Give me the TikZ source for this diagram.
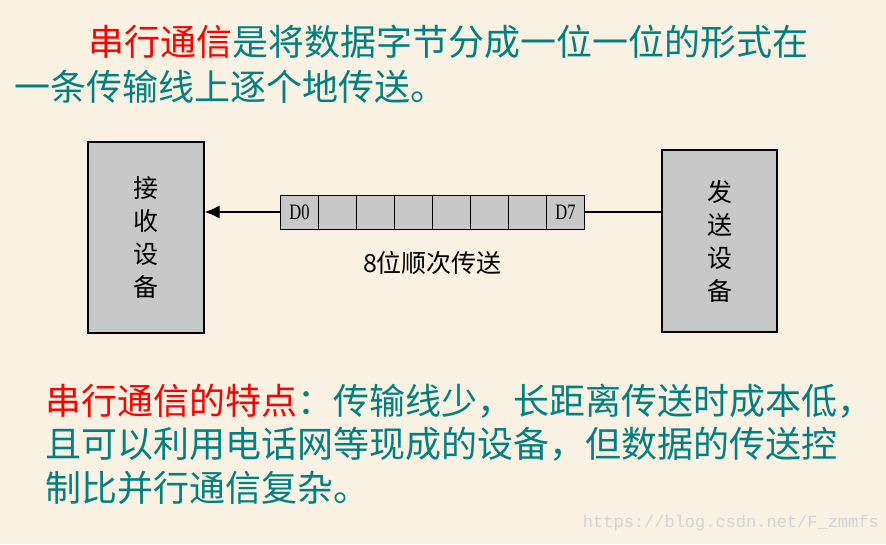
\documentclass[tikz,border=0pt]{standalone}
\usepackage{fontspec}
\usepackage{xcolor}
\setmainfont{Liberation Serif}
\newfontfamily\cjk{Noto Sans CJK SC}
\newfontfamily\cellfont[FakeStretch=0.75]{Liberation Serif}
\newfontfamily\wmfont{Liberation Mono}
\usetikzlibrary{matrix,
	positioning,
	arrows.meta}
\definecolor{bgbeige}{RGB}{249,242,226}
\definecolor{textteal}{RGB}{0,128,128}
\definecolor{boxgray}{RGB}{200,200,200}
\tikzstyle{device}=[draw, fill=boxgray, line width=1.2pt, inner sep=0,
	align=center, font=\cjk\fontsize{25}{33}\selectfont]
\tikzstyle{bit register}=[matrix of nodes, nodes in empty cells, ampersand
	replacement=\&, inner sep=0, column sep=-1pt, nodes={rectangle, draw,
	fill=boxgray, line width=1pt, minimum height=34pt, minimum width=38pt,
	inner sep=0, anchor=center, font=\cellfont\fontsize{22}{22}\selectfont}]
\tikzstyle{wire}=[line width=1.2pt]
\tikzstyle{para}=[anchor=west, inner sep=0, text=textteal, font=\cjk\fontsize{36}{36}\selectfont]

\begin{document}
\begin{tikzpicture}[x=1pt, y=-1pt]
            \fill[bgbeige] (0,0) rectangle (886,544);
            \useasboundingbox (0,0) rectangle (886,544);
            % definition text
            \node[para] (def1) at (88,42) {\textcolor{red}{串行通信}是将数据字节分成一位一位的形式在};
            \node[para] (def2) at (14,87) {一条传输线上逐个地传送。};
            % devices and register
            \node[device, minimum width=116pt, minimum height=191pt] (recv) at (146,237.5)
                {接\\收\\设\\备};
            \node[device, minimum width=115pt, minimum height=182pt] (send) at (719.5,241)
                {发\\送\\设\\备};
            \matrix (reg) at (432.5,212) [bit register] {
                D0 \& \& \& \& \& \& \& D7 \\
            };
            \draw[wire, -{Latex[length=15pt, width=13pt]}] (reg.west) -- (reg.west -| recv.east);
            \draw[wire] (reg.east) -- (reg.east -| send.west);
            \node[font=\cjk\fontsize{25}{25}\selectfont, below=18pt of reg] (order) {8位顺次传送};
            % features text
            \node[para] (feat1) at (45,401) {\textcolor{red}{串行通信的特点}：传输线少，长距离传送时成本低，};
            \node[para] (feat2) at (45,444) {且可以利用电话网等现成的设备，但数据的传送控};
            \node[para] (feat3) at (45,488) {制比并行通信复杂。};
            \node[anchor=east, inner sep=0, text=black!17, font=\wmfont\fontsize{17}{17}\selectfont]
                (mark) at (879,523) {https://blog.csdn.net/F\_zmmfs};
        \end{tikzpicture}
\end{document}
